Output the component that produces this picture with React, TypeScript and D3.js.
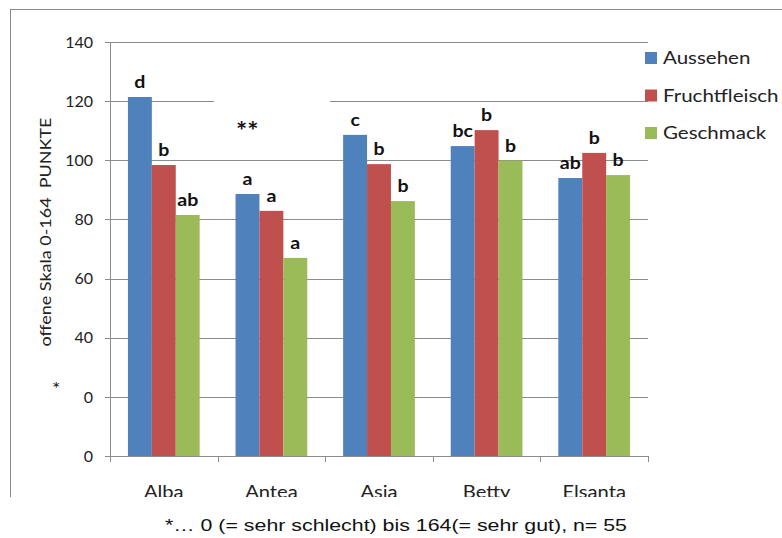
import React from "react";
import * as d3 from "d3";

// Sorten (Kategorien) und Bewertungsmerkmale
const categories = ["Alba", "Antea", "Asia", "Betty", "Elsanta"];
const seriesNames = ["Aussehen", "Fruchtfleisch", "Geschmack"];

// Mittelwerte je Merkmal, Reihenfolge wie categories
const aussehen = [121.4, 88.6, 108.6, 104.8, 94.0];
const fruchtfleisch = [98.4, 82.9, 98.7, 110.2, 102.5];
const geschmack = [81.5, 67.0, 86.2, 99.9, 95.0];

// Signifikanzbuchstaben je Merkmal
const lettersAussehen = ["d", "a", "c", "bc", "ab"];
const lettersFruchtfleisch = ["b", "a", "b", "b", "b"];
const lettersGeschmack = ["ab", "a", "b", "b", "b"];

const yTicks = [0, 20, 40, 60, 80, 100, 120, 140];

const colors = ["#4F81BD", "#C0504D", "#9BBB59"];

const W = 782;
const H = 538;
const margin = { left: 110, right: 134, top: 42, bottom: 82 };
const FONT = "Lato, 'Open Sans', sans-serif";

// Text mit horizontaler Streckung (breitere Laufweite wie im Office-Export)
function SText({
  x,
  y,
  sx = 1.15,
  anchor = "start",
  size = 16,
  weight = "normal",
  fill = "#222",
  children,
}: {
  x: number;
  y: number;
  sx?: number;
  anchor?: "start" | "middle" | "end";
  size?: number;
  weight?: string;
  fill?: string;
  children: React.ReactNode;
}) {
  return (
    <text
      transform={`translate(${x},${y}) scale(${sx},1)`}
      textAnchor={anchor}
      fontFamily={FONT}
      fontSize={size}
      fontWeight={weight}
      fill={fill}
    >
      {children}
    </text>
  );
}

export default function App() {
  const values = [aussehen, fruchtfleisch, geschmack];
  const letters = [lettersAussehen, lettersFruchtfleisch, lettersGeschmack];

  const x0 = d3
    .scaleBand<string>()
    .domain(categories)
    .range([margin.left, W - margin.right])
    .padding(0);
  const x1 = d3
    .scaleBand<string>()
    .domain(seriesNames)
    .range([0, x0.bandwidth()])
    .paddingInner(0)
    .paddingOuter(0.75);
  const y = d3.scaleLinear().domain([0, 140]).range([H - margin.bottom, margin.top]);

  const grid = "#8c8c8c";
  const x0Start = margin.left;
  const x0End = W - margin.right;
  const boundaries = [...categories.map((c) => x0(c) as number), x0End];
  const py = (v: number) => Math.round(y(v)) + 0.5;

  return (
    <svg
      width={W}
      height={H}
      style={{ position: "absolute", left: 0, top: 0, display: "block", background: "#fff" }}
    >
      <defs>
        <clipPath id="chartArea">
          <rect x={10} y={9} width={W - 10} height={488} />
        </clipPath>
      </defs>

      <g clipPath="url(#chartArea)">
        {/* Gitternetzlinien */}
        {yTicks.slice(1).map((t) => (
          <line key={"g" + t} x1={x0Start} x2={x0End} y1={py(t)} y2={py(t)} stroke={grid} />
        ))}

        {/* Balken */}
        {categories.map((c, ci) =>
          seriesNames.map((s, si) => {
            const v = values[si][ci];
            return (
              <rect
                key={c + s}
                x={(x0(c) as number) + (x1(s) as number)}
                y={y(v)}
                width={x1.bandwidth()}
                height={y(0) - y(v)}
                fill={colors[si]}
              />
            );
          })
        )}

        {/* Y-Achse */}
        <line x1={x0Start + 0.5} x2={x0Start + 0.5} y1={y(140)} y2={y(0)} stroke={grid} />
        {yTicks.map((t) => (
          <g key={"t" + t}>
            <line x1={x0Start - 5} x2={x0Start} y1={py(t)} y2={py(t)} stroke={grid} />
            <text
              x={x0Start - 17}
              y={y(t)}
              dy="0.36em"
              textAnchor="end"
              fontFamily={FONT}
              fontSize={16}
              fill="#222"
            >
              {t}
            </text>
          </g>
        ))}

        {/* X-Achse */}
        <line x1={x0Start} x2={x0End} y1={py(0)} y2={py(0)} stroke={grid} />
        {boundaries.map((b, i) => (
          <line
            key={"b" + i}
            x1={Math.round(b) + 0.5}
            x2={Math.round(b) + 0.5}
            y1={y(0)}
            y2={y(0) + 6}
            stroke={grid}
          />
        ))}
        {categories.map((c) => (
          <SText
            key={"c" + c}
            x={(x0(c) as number) + x0.bandwidth() / 2}
            y={y(0) + 42}
            anchor="middle"
            size={18}
            sx={1.12}
          >
            {c}
          </SText>
        ))}

        {/* Achsentitel */}
        <text
          transform={`translate(51, 232) rotate(-90)`}
          textAnchor="middle"
          fontFamily={FONT}
          fontSize={16}
          fill="#222"
          textLength={229}
          lengthAdjust="spacingAndGlyphs"
          style={{ whiteSpace: "pre" }}
        >
          offene Skala 0-164  PUNKTE
        </text>

        {/* Signifikanzbuchstaben */}
        {categories.map((c, ci) =>
          seriesNames.map((s, si) => (
            <SText
              key={"l" + c + s}
              x={(x0(c) as number) + (x1(s) as number) + x1.bandwidth() / 2}
              y={y(values[si][ci]) - 9}
              anchor="middle"
              size={17}
              sx={1.15}
              weight="bold"
              fill="#111"
            >
              {letters[si][ci]}
            </SText>
          ))
        )}

        {/* Textfeld mit Sternchen */}
        <rect x={214} y={92} width={116} height={40} fill="#fff" />
        <SText x={236} y={140} size={24} sx={1.1} weight="bold" fill="#111">
          **
        </SText>

        {/* Textfeld mit Fußnotenverweis */}
        <rect x={38} y={366} width={45} height={38} fill="#fff" />
        <SText x={52} y={395} size={18} sx={1.1} fill="#111">
          *
        </SText>

        {/* Legende */}
        {seriesNames.map((s, i) => (
          <g key={"lg" + s} transform={`translate(645, ${52 + i * 37.5})`}>
            <rect width={12} height={12} fill={colors[i]} />
            <SText x={18} y={12} size={18} sx={1.14}>
              {s}
            </SText>
          </g>
        ))}
      </g>

      {/* Rahmen */}
      <line x1={10.5} x2={10.5} y1={9} y2={497} stroke={grid} />
      <line x1={10} x2={W} y1={9.5} y2={9.5} stroke={grid} />

      {/* Fußnote */}
      <text
        x={165}
        y={531}
        fontFamily="'Liberation Sans', Arial, sans-serif"
        fontSize={17}
        fill="#111"
        textLength={462}
        lengthAdjust="spacingAndGlyphs"
      >
        *… 0 (= sehr schlecht) bis 164(= sehr gut), n= 55
      </text>
    </svg>
  );
}
